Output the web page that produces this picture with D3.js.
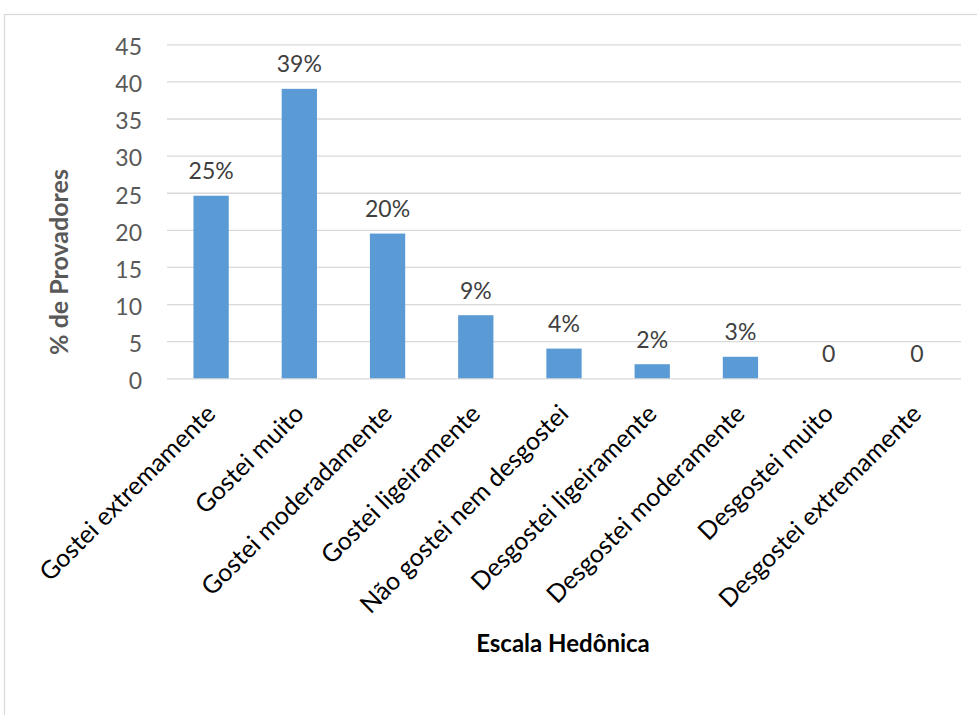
<!DOCTYPE html>
<html>
<head>
<meta charset="utf-8">
<script src="https://cdn.jsdelivr.net/npm/d3@7"></script>
<style>
  html, body { margin: 0; padding: 0; background: #fff; }
  svg { display: block; }
</style>
</head>
<body>
<svg id="chart" width="977" height="715"></svg>
<script>
const categories = [
  "Gostei extremamente",
  "Gostei muito",
  "Gostei moderadamente",
  "Gostei ligeiramente",
  "Não gostei nem desgostei",
  "Desgostei ligeiramente",
  "Desgostei moderamente",
  "Desgostei muito",
  "Desgostei extremamente"
];
const values = [24.6, 39, 19.5, 8.5, 4, 1.9, 2.9, 0, 0];
const dataLabels = ["25%", "39%", "20%", "9%", "4%", "2%", "3%", "0", "0"];
const yTicks = [0, 5, 10, 15, 20, 25, 30, 35, 40, 45];
const yTitle = "% de Provadores";
const xTitle = "Escala Hedônica";

const svg = d3.select("#chart");
const font = "Lato, 'Open Sans', sans-serif";

// outer chart border
svg.append("rect")
  .attr("x", 4.5).attr("y", 14.5)
  .attr("width", 1000).attr("height", 1000)
  .attr("fill", "none")
  .attr("stroke", "#d9d9d9")
  .attr("stroke-width", 1.2);

const plot = { left: 167, right: 961, top: 44.3, bottom: 378.3 };

const x = d3.scaleBand()
  .domain(categories)
  .range([plot.left, plot.right])
  .paddingInner(0.6)
  .paddingOuter(0.3);

const y = d3.scaleLinear()
  .domain([0, 45])
  .range([plot.bottom, plot.top]);

// gridlines
const grid = svg.append("g")
  .attr("transform", `translate(${plot.left},0)`)
  .call(d3.axisLeft(y).tickValues(yTicks).tickSize(-(plot.right - plot.left)).tickFormat(""));
grid.select(".domain").remove();
grid.selectAll(".tick line").attr("stroke", "#d9d9d9").attr("stroke-width", 1.3);

// y tick labels
const yAxis = svg.append("g")
  .attr("transform", `translate(${plot.left},0)`)
  .call(d3.axisLeft(y).tickValues(yTicks).tickSize(0).tickPadding(25));
yAxis.select(".domain").remove();
yAxis.selectAll(".tick text")
  .attr("font-family", font)
  .attr("font-size", 23)
  .attr("fill", "#595959")
  .attr("dy", "0.45em");

// bars
svg.append("g").selectAll("rect")
  .data(values)
  .join("rect")
  .attr("x", (d, i) => x(categories[i]))
  .attr("y", d => y(d))
  .attr("width", x.bandwidth())
  .attr("height", d => y(0) - y(d))
  .attr("fill", "#5b9bd5");

// data labels
svg.append("g").selectAll("text")
  .data(values)
  .join("text")
  .attr("x", (d, i) => x(categories[i]) + x.bandwidth() / 2)
  .attr("y", d => y(d) - 16.5)
  .attr("text-anchor", "middle")
  .attr("font-family", font)
  .attr("font-size", 23)
  .attr("fill", "#404040")
  .text((d, i) => dataLabels[i]);

// x axis category labels (rotated)
const xAxis = svg.append("g")
  .attr("transform", `translate(0,${plot.bottom})`)
  .call(d3.axisBottom(x).tickSize(0).tickPadding(0));
xAxis.select(".domain").remove();
xAxis.selectAll(".tick text")
  .attr("font-family", font)
  .attr("font-size", 25)
  .attr("fill", "#000")
  .attr("text-anchor", "end")
  .attr("dy", 0)
  .attr("y", 0)
  .attr("transform", "translate(6,37) rotate(-45)");

// axis titles
svg.append("text")
  .attr("x", 563).attr("y", 652)
  .attr("text-anchor", "middle")
  .attr("font-family", font)
  .attr("font-size", 24)
  .attr("font-weight", "bold")
  .attr("fill", "#000")
  .text(xTitle);

svg.append("text")
  .attr("transform", "translate(68,262) rotate(-90)")
  .attr("text-anchor", "middle")
  .attr("font-family", font)
  .attr("font-size", 25)
  .attr("font-weight", "bold")
  .attr("fill", "#595959")
  .text(yTitle);
</script>
</body>
</html>
